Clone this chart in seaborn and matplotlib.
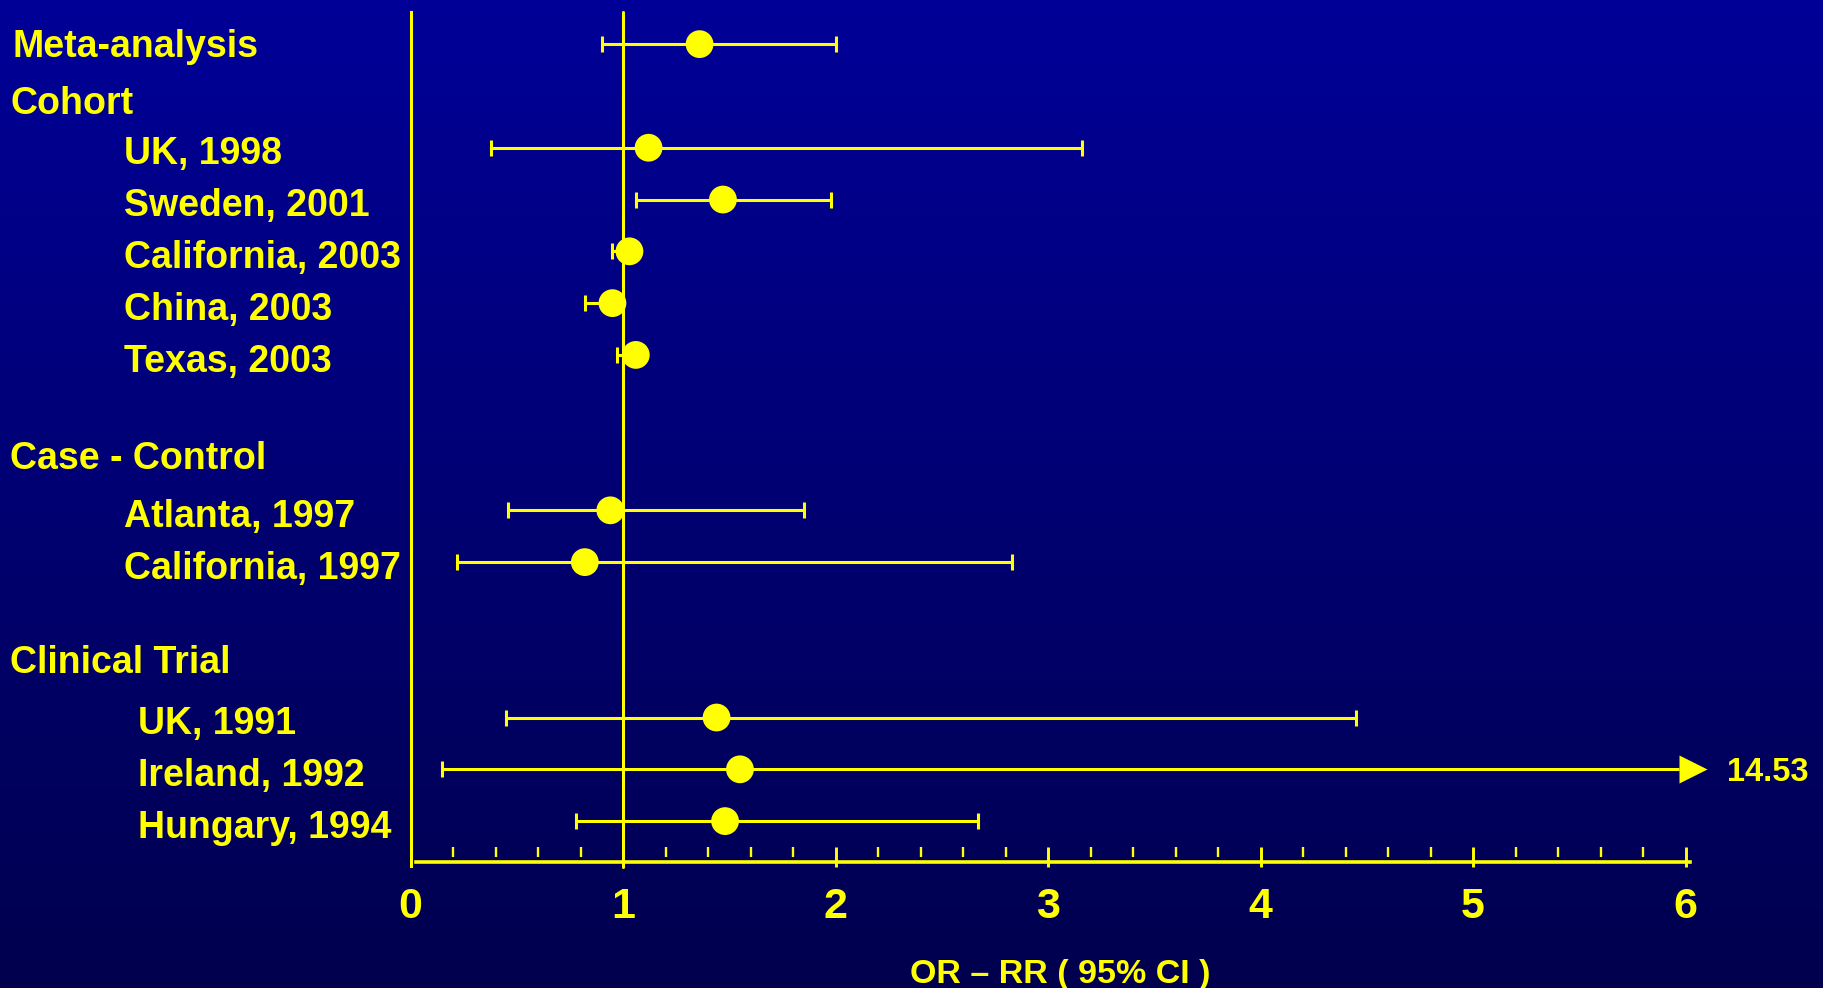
import numpy as np
import pandas as pd
import matplotlib
matplotlib.use("Agg")
import matplotlib.pyplot as plt
import matplotlib.transforms as mtransforms
from matplotlib.colors import LinearSegmentedColormap
import seaborn as sns

# ---------------- data ----------------
group_order = ["Meta-analysis", "Cohort", "Case - Control", "Clinical Trial"]
studies = ["Meta-analysis", "UK, 1998", "Sweden, 2001", "California, 2003", "China, 2003",
           "Texas, 2003", "Atlanta, 1997", "California, 1997", "UK, 1991", "Ireland, 1992",
           "Hungary, 1994"]
study_group = ["Meta-analysis", "Cohort", "Cohort", "Cohort", "Cohort", "Cohort",
               "Case - Control", "Case - Control", "Clinical Trial", "Clinical Trial",
               "Clinical Trial"]
estimate = [1.36, 1.12, 1.47, 1.03, 0.95, 1.06, 0.94, 0.82, 1.44, 1.55, 1.48]
ci_low = [0.90, 0.38, 1.06, 0.95, 0.82, 0.97, 0.46, 0.22, 0.45, 0.15, 0.78]
ci_high = [2.00, 3.16, 1.98, 1.06, 0.99, 1.09, 1.85, 2.83, 4.45, 14.53, 2.67]
x_ticks = [0, 1, 2, 3, 4, 5, 6]
x_label = "OR – RR ( 95% CI )"

# ---------------- style ----------------
sns.set_style("white")
plt.rcParams["font.family"] = ["Liberation Sans", "DejaVu Sans"]
plt.rcParams["font.weight"] = "bold"
YEL = "#FFFF00"

# ---------------- row layout ----------------
row = 0
study_rows, header_rows = {}, {}
for g in group_order:
    members = [s for s, sg in zip(studies, study_group) if sg == g]
    if members == [g]:
        study_rows[g] = row
        row += 1
    else:
        header_rows[g] = row
        row += 1
        for s in members:
            study_rows[s] = row
            row += 1
        row += 1

df = pd.DataFrame({"study": studies, "group": study_group, "estimate": estimate,
                   "lo": ci_low, "hi": ci_high})
df["y"] = df["study"].map(study_rows)

# ---------------- figure ----------------
fig = plt.figure(figsize=(18.24, 9.88), dpi=100)
bg = fig.add_axes([0, 0, 1, 1], zorder=0)
cmap = LinearSegmentedColormap.from_list("bg", ["#000098", "#00004E"])
bg.imshow(np.linspace(0, 1, 256)[:, None], aspect="auto", cmap=cmap,
          extent=[0, 1, 0, 1], origin="upper")
bg.set_axis_off()

ax = fig.add_axes([0.2251, 0.1275, 0.6990, 0.8608], zorder=1)
ax.patch.set_alpha(0)

xmax = x_ticks[-1]
YLIM = (15.79, -0.629)

# reference line at 1
ax.axvline(1, ymin=-0.006, ymax=1, color=YEL, lw=2.2, clip_on=False, zorder=2)

# confidence intervals
for _, r in df.iterrows():
    right = min(r["hi"], xmax - 0.03)
    ax.hlines(r["y"], r["lo"], right, color=YEL, lw=2.2, zorder=3)
    ax.plot([r["lo"]], [r["y"]], marker="|", ms=11, mew=2.2, color=YEL, zorder=3)
    if r["hi"] <= xmax:
        ax.plot([r["hi"]], [r["y"]], marker="|", ms=11, mew=2.2, color=YEL, zorder=3)
    else:
        ax.plot([xmax + 0.037], [r["y"]], marker=">", ms=20, color=YEL,
                mec="none", clip_on=False, zorder=3)
        ax.text(xmax + 0.195, r["y"] + 0.22, f"{r['hi']:.2f}", color=YEL,
                fontsize=23.5, fontweight="bold", ha="left", va="baseline",
                clip_on=False)

# point estimates
sns.scatterplot(data=df, x="estimate", y="y", s=400, color=YEL, edgecolor="none",
                ax=ax, zorder=4, legend=False, clip_on=False)
ax.set_xlim(0, xmax)
ax.set_ylim(*YLIM)
ax.set_xlabel("")
ax.set_ylabel("")

# spines and ticks
for side in ["top", "right"]:
    ax.spines[side].set_visible(False)
ax.spines["left"].set_color(YEL)
ax.spines["left"].set_linewidth(2.2)
ax.spines["left"].set_bounds(15.86, -0.629)
ax.spines["bottom"].set_color(YEL)
ax.spines["bottom"].set_linewidth(2.6)
ax.spines["bottom"].set_bounds(0.025, xmax + 0.02)

ax.set_yticks([])
ax.set_xticks(x_ticks)
ax.set_xticklabels([str(t) for t in x_ticks])
ax.tick_params(axis="x", which="major", bottom=True, direction="in", length=11,
               width=2.1, colors=YEL, labelsize=31, pad=18)
for lab in ax.get_xticklabels():
    lab.set_fontweight("bold")

# small downward stubs of the major ticks below the axis line
trans_xa = mtransforms.blended_transform_factory(ax.transData, ax.transAxes)
ax.vlines(x_ticks[1:], -0.0055, 0, transform=trans_xa, color=YEL, lw=2.1, clip_on=False)

minor = [m for m in np.round(np.arange(0.2, xmax, 0.2), 2) if abs(m - round(m)) > 1e-6]
ax.vlines(minor, 0.0063, 0.0175, transform=trans_xa, color=YEL, lw=1.7, clip_on=False)

# row labels
trans_fy = mtransforms.blended_transform_factory(fig.transFigure, ax.transData)
label_kw = dict(color=YEL, fontsize=27, fontweight="bold", ha="left", va="baseline",
                transform=trans_fy, clip_on=False)
header_offset = {"Cohort": 0.35, "Case - Control": 0.21, "Clinical Trial": 0.15}
item_x = {"Cohort": 0.0678, "Case - Control": 0.0678, "Clinical Trial": 0.0756}
for g, yr in header_rows.items():
    ax.text(0.0055, yr + header_offset[g], g, **label_kw)
for s, g in zip(studies, study_group):
    if s == g:
        ax.text(0.0071, study_rows[s] + 0.25, s, **label_kw)
    else:
        ax.text(item_x[g], study_rows[s] + 0.32, s, **label_kw)

fig.text(1060 / 1824, 5 / 988, x_label, color=YEL, fontsize=24.5, fontweight="bold",
         ha="center", va="baseline")

fig.savefig("out.png", dpi=100)
